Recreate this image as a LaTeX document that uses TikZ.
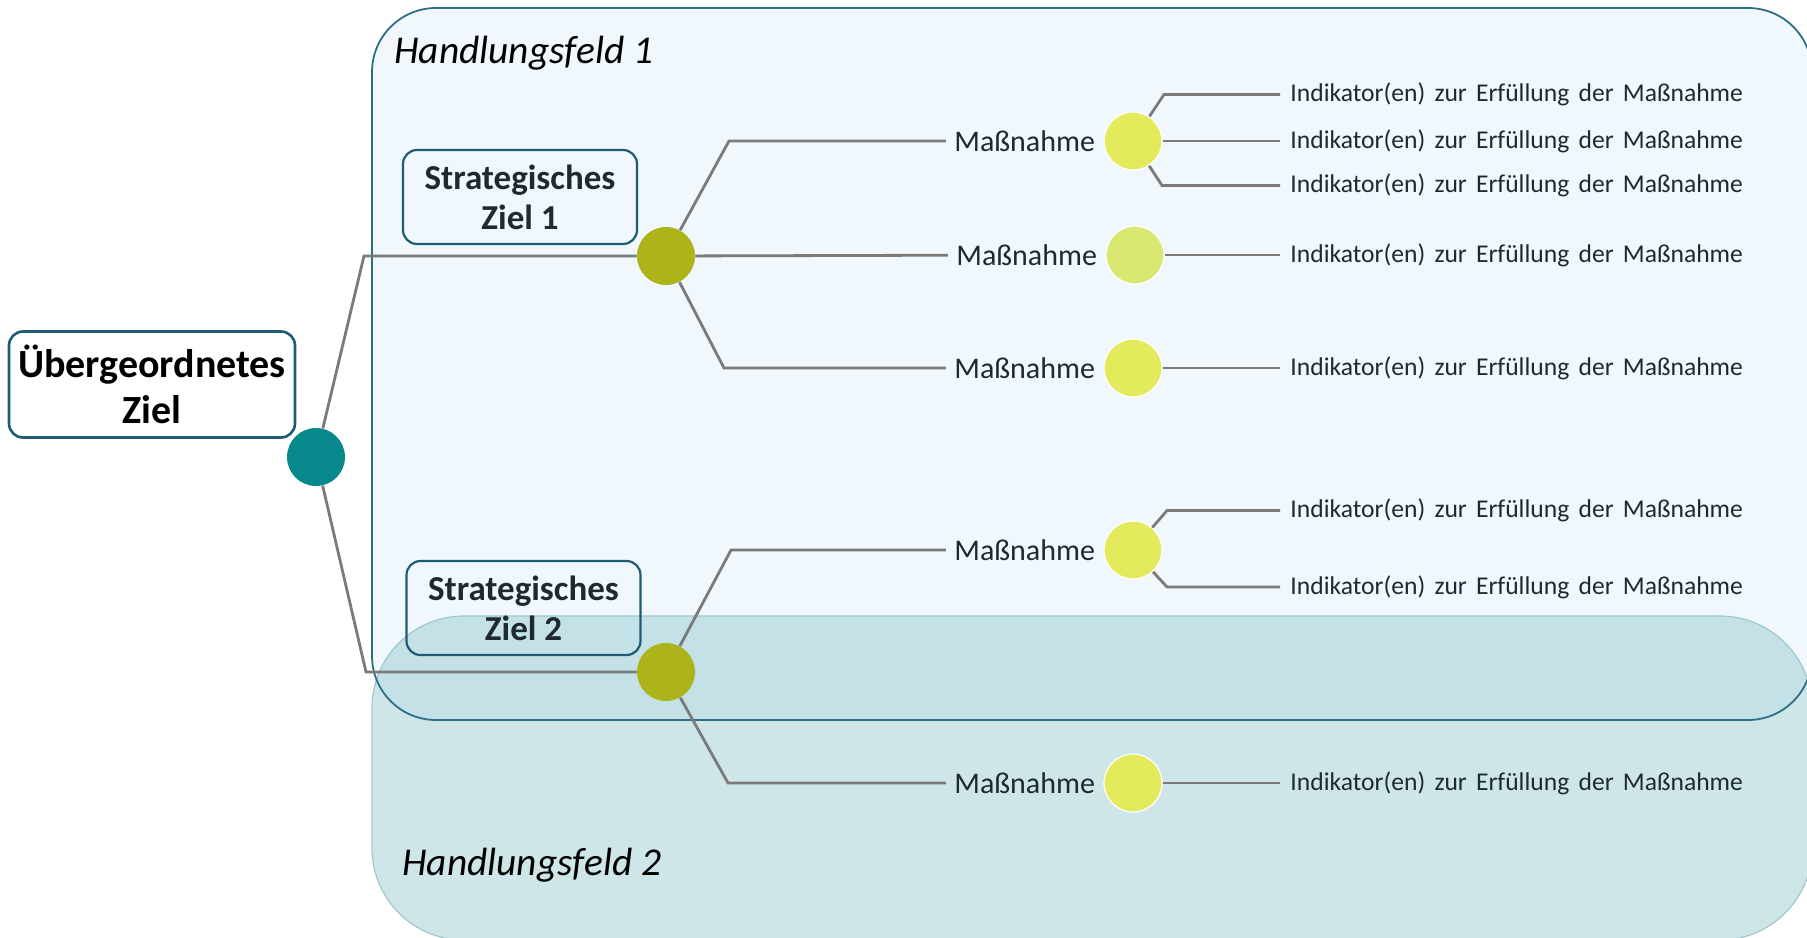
\documentclass[tikz,border=0pt]{standalone}
\usepackage{fontspec}
\setmainfont{Carlito}
\usetikzlibrary{positioning}
\definecolor{feldeins}{HTML}{F0F8FD}
\definecolor{feldrand}{HTML}{2D6F86}
\definecolor{feldzwei}{HTML}{4FA3AE}
\definecolor{feldzweirand}{HTML}{9FC7CD}
\definecolor{zielrand}{HTML}{1F5C73}
\definecolor{petrol}{HTML}{07898B}
\definecolor{oliv}{HTML}{ADB419}
\definecolor{gelb}{HTML}{E3EA5B}
\definecolor{gelbhell}{HTML}{DAE872}
\definecolor{astgrau}{HTML}{7A7A7A}
\definecolor{schrift}{HTML}{1E2A30}

\begin{document}
\begin{tikzpicture}[x=0.5pt,y=-0.5pt,node distance=0pt,
    oben/.style={draw=zielrand,line width=1.3pt,fill=white,rounded corners=7pt,align=center,
      minimum width=143pt,minimum height=53pt,font=\bfseries\fontsize{20}{23}\selectfont},
    ziel/.style={draw=zielrand,line width=1.1pt,rounded corners=7pt,align=center,text=schrift,
      minimum width=117pt,minimum height=47pt,font=\bfseries\fontsize{17.5}{20}\selectfont},
    knoten/.style={circle,inner sep=0pt,minimum size=29pt},
    wurzel/.style={knoten,fill=petrol},
    zielpunkt/.style={knoten,fill=oliv},
    punkt/.style={knoten,fill=gelb,draw=white,line width=0.6pt},
    massnahme/.style={inner xsep=4pt,inner ysep=1pt,text=schrift,font=\fontsize{15}{18}\selectfont},
    indikator/.style={anchor=west,inner xsep=5pt,inner ysep=1pt,text=schrift,
      font={\fontsize{12.8}{15}\selectfont\spaceskip=4.6pt\relax}},
    feldname/.style={anchor=west,inner sep=0pt,font=\itshape\fontsize{19.7}{24}\selectfont},
    ast/.style={draw=astgrau,line width=1.4pt}]
  \useasboundingbox (0,0) rectangle (1807,937);

  % Handlungsfelder
  \fill[feldeins,rounded corners=32pt] (372,8) rectangle (1812,720);
  \filldraw[fill=feldzwei,fill opacity=0.27,draw=feldzweirand,line width=0.6pt,rounded corners=46pt]
    (372,616) rectangle (1812,940);
  \draw[feldrand,line width=0.9pt,rounded corners=32pt] (372,8) rectangle (1812,720);
  \node[feldname] (hf1) at (394,53) {Handlungsfeld 1};
  \node[feldname] (hf2) at (402,865) {Handlungsfeld 2};

  % Ziele
  \node[oben] (ober) at (152,384.5) {Übergeordnetes\\Ziel};
  \node[wurzel] (wurzel) at (316,457) {};
  \node[ziel] (sz1) at (520,197) {Strategisches\\Ziel 1};
  \node[ziel] (sz2) at (523.5,608) {Strategisches\\Ziel 2};
  \node[zielpunkt] (p1) at (666,256) {};
  \node[zielpunkt] (p2) at (666,672) {};

  % Massnahmen
  \node[punkt] (m1) at (1133,141) {};
  \node[punkt,fill=gelbhell] (m2) at (1135,255) {};
  \node[punkt] (m3) at (1133,368) {};
  \node[punkt] (m4) at (1133,550) {};
  \node[punkt] (m5) at (1133,783) {};
  \node[massnahme] (t1) [left=of m1] {Maßnahme};
  \node[massnahme] (t2) [left=of m2] {Maßnahme};
  \node[massnahme] (t3) [left=of m3] {Maßnahme};
  \node[massnahme] (t4) [left=of m4] {Maßnahme};
  \node[massnahme] (t5) [left=of m5] {Maßnahme};

  % Indikatoren
  \node[indikator] (i1) at (1280,94.5) {Indikator(en) zur Erfüllung der Maßnahme};
  \node[indikator] (i2) at (1280,141) {Indikator(en) zur Erfüllung der Maßnahme};
  \node[indikator] (i3) at (1280,185.5) {Indikator(en) zur Erfüllung der Maßnahme};
  \node[indikator] (i4) at (1280,255) {Indikator(en) zur Erfüllung der Maßnahme};
  \node[indikator] (i5) at (1280,368) {Indikator(en) zur Erfüllung der Maßnahme};
  \node[indikator] (i6) at (1280,510.5) {Indikator(en) zur Erfüllung der Maßnahme};
  \node[indikator] (i7) at (1280,587) {Indikator(en) zur Erfüllung der Maßnahme};
  \node[indikator] (i8) at (1280,783) {Indikator(en) zur Erfüllung der Maßnahme};

  % Knicke
  \coordinate (k1) at (364,256);
  \coordinate (k2) at (366,672);
  \coordinate (k3) at (729,141);
  \coordinate (k4) at (724,368);
  \coordinate (k5) at (731,550);
  \coordinate (k6) at (728,783);
  \coordinate (k7) at (1164,94.5);
  \coordinate (k8) at (1162,185.5);
  \coordinate (k9) at (1167,510.5);
  \coordinate (k10) at (1167,587);

  % Aeste
  \draw[ast] (wurzel) -- (k1) -- (p1);
  \draw[ast] (wurzel) -- (k2) -- (p2);
  \draw[ast] (p1) -- (k3) -- (t1);
  \draw[ast] (p1) -- (t2);
  \draw[ast] (p1) -- (k4) -- (t3);
  \draw[ast] (p2) -- (k5) -- (t4);
  \draw[ast] (p2) -- (k6) -- (t5);
  \draw[ast] (m1) -- (k7) -- (i1);
  \draw[ast] (m1) -- (i2);
  \draw[ast] (m1) -- (k8) -- (i3);
  \draw[ast] (m2) -- (i4);
  \draw[ast] (m3) -- (i5);
  \draw[ast] (m4) -- (k9) -- (i6);
  \draw[ast] (m4) -- (k10) -- (i7);
  \draw[ast] (m5) -- (i8);
\end{tikzpicture}
\end{document}
